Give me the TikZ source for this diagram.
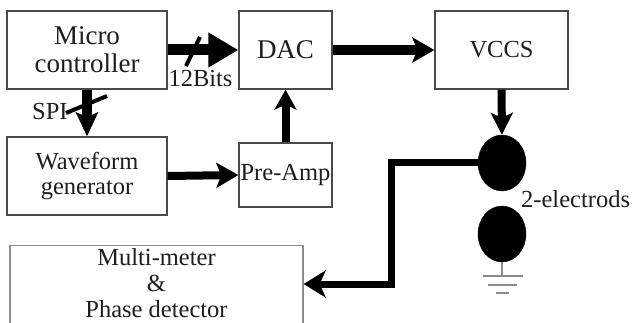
\documentclass[tikz,border=0pt]{standalone}
\usepackage{fontspec}
\setmainfont{Liberation Serif}
\usetikzlibrary{arrows.meta,shapes.geometric}
\definecolor{boxline}{HTML}{4A4A4A}
\definecolor{txt}{HTML}{1E1E1E}
\definecolor{gnd}{HTML}{8C8C8C}
\tikzset{
  blk/.style={draw=boxline, line width=1.3pt, fill=white, text=txt, align=center,
    inner sep=2pt, font=\fontsize{24.5}{26}\selectfont},
  big/.style={font=\fontsize{27}{30}\selectfont},
  thick arrow/.style={line width=8pt, -{Stealth[length=22pt,width=25pt,inset=5pt]}},
  fat arrow/.style={line width=11pt, -{Triangle[length=30pt,width=33pt]}},
  slash/.style={line width=4pt, black},
  lbl/.style={text=txt, inner sep=0pt, font=\fontsize{24.5}{26}\selectfont},
  electrode/.style={ellipse, fill=black, draw=black, minimum width=48pt, minimum height=56pt, inner sep=0pt},
}
\begin{document}
\begin{tikzpicture}[x=1pt,y=-1pt]
\useasboundingbox (0,0) rectangle (634,323);
\clip (0,0) rectangle (634,323);
\fill[white] (0,0) rectangle (634,323);
% blocks
\node[blk,big,minimum width=160pt,minimum height=78pt] (micro) at (87,50) {Micro\\[-2pt]controller};
\node[blk,big,minimum width=93pt,minimum height=78pt] (dac) at (285.5,50) {DAC};
\node[blk,minimum width=133pt,minimum height=78pt] (vccs) at (501.5,50) {VCCS};
\node[blk,minimum width=160pt,minimum height=78pt] (wave) at (87,176) {Waveform\\[-1pt]generator};
\node[blk,minimum width=93pt,minimum height=64pt,inner sep=1pt] (pre) at (285.5,175) {Pre-Amp};
\node[blk,draw=gnd,anchor=north,minimum width=293pt,inner sep=1.5pt,font=\fontsize{24.5}{26}\selectfont] (multi) at (156.5,245)
  {\begin{tabular}{@{}c@{}}Multi-meter\\\&\\Phase detector\end{tabular}};
% electrodes
\node[electrode] (e1) at (502,163) {};
\node[electrode] (e2) at (502,234) {};
% connectors
\draw[fat arrow] (micro.east) -- (dac.west);
\draw[thick arrow,line width=10pt] (dac.east) -- (vccs.west);
\draw[thick arrow,line width=10pt,-{Stealth[length=24pt,width=22pt,inset=5pt]}] (micro.south) -- (wave.north);
\draw[thick arrow] (wave.east) -- (pre.west);
\draw[thick arrow,-{Stealth[length=20pt,width=22pt,inset=5pt]}] (pre.north) -- (dac.south);
\draw[thick arrow,-{Stealth[length=22pt,width=22pt,inset=5pt]}] (vccs.south) -- (e1.north);
\coordinate (bend) at (391,163);
\coordinate (bend2) at (391,284);
\draw[line width=7pt, -{Stealth[length=22pt,width=27pt,inset=6pt]}] (e1.west) -- (bend) -- (bend2) -- (bend2 -| multi.east);
% bus slashes
\coordinate (s1a) at (186,66);
\coordinate (s1b) at (200,37);
\draw[slash] (s1a) -- (s1b);
\coordinate (s2a) at (66,113);
\coordinate (s2b) at (107,96);
\draw[slash] (s2a) -- (s2b);
% labels
\node[lbl,anchor=base] (bits) at (200.5,87) {12Bits};
\node[lbl,anchor=base west] (spi) at (32,120) {SPI};
\node[lbl,anchor=west] (elab) at (521,199) {2-electrods};
% ground
\coordinate (g0) at (502,276);
\draw[gnd,line width=2pt] (e2.south) -- (g0);
\draw[gnd,line width=2.2pt] (483,276) -- (523,276);
\draw[gnd,line width=2.2pt] (488,285) -- (517,285);
\draw[gnd,line width=2.2pt] (496,293) -- (509,293);
\end{tikzpicture}
\end{document}
